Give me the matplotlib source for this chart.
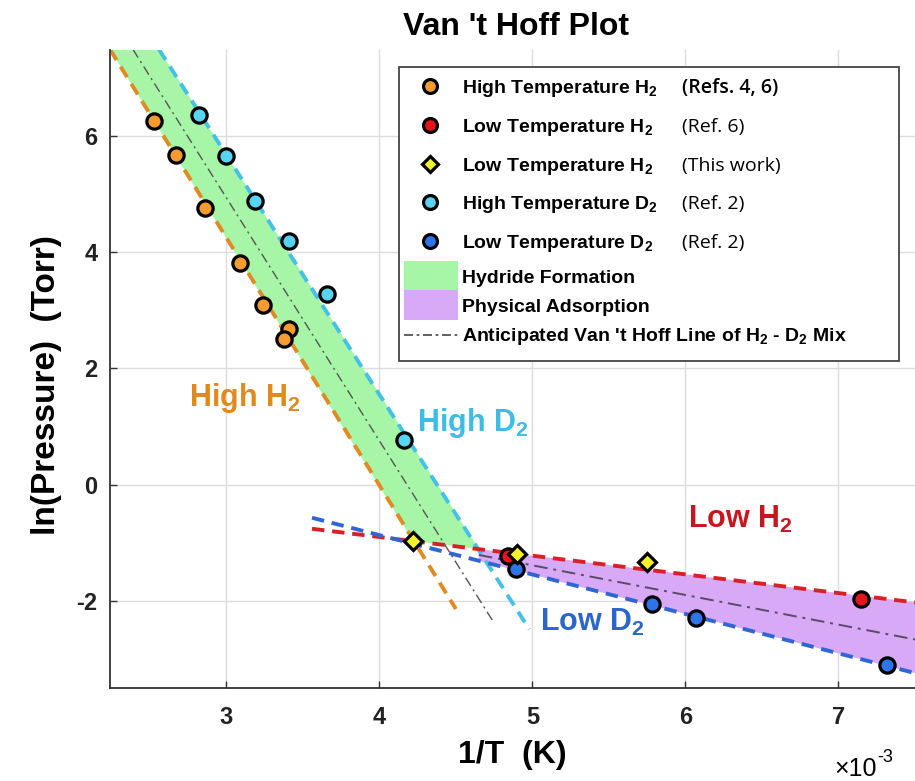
import matplotlib

matplotlib.use("Agg")
import matplotlib.pyplot as plt
from matplotlib.lines import Line2D
from matplotlib.patches import Rectangle

plt.rcParams["font.family"] = ["Liberation Sans", "DejaVu Sans"]
plt.rcParams["font.weight"] = "bold"
plt.rcParams["axes.labelweight"] = "bold"
plt.rcParams["axes.unicode_minus"] = False
plt.rcParams["mathtext.fontset"] = "custom"
for key in ("rm", "it", "bf", "sf"):
    plt.rcParams["mathtext." + key] = "Liberation Sans:bold"

W, H = 915, 781

# x in units of 1e-3 1/K, y = ln(P / Torr)
high_h2_x = [2.53, 2.67, 2.86, 3.09, 3.24, 3.41, 3.38]
high_h2_y = [6.25, 5.67, 4.76, 3.81, 3.10, 2.68, 2.50]
low_h2_x = [4.84, 7.15]
low_h2_y = [-1.22, -1.97]
this_work_x = [4.22, 4.90, 5.75]
this_work_y = [-0.97, -1.20, -1.33]
high_d2_x = [2.82, 3.00, 3.19, 3.41, 3.66, 4.16]
high_d2_y = [6.36, 5.66, 4.88, 4.20, 3.28, 0.77]
low_d2_x = [4.89, 5.78, 6.07, 7.32]
low_d2_y = [-1.46, -2.06, -2.29, -3.10]

# fitted Van 't Hoff lines (end points)
fit_high_h2_x, fit_high_h2_y = [2.24, 4.50], [7.49, -2.14]
fit_high_d2_x, fit_high_d2_y = [2.56, 4.98], [7.49, -2.49]
fit_high_mix_x, fit_high_mix_y = [2.39, 4.74], [7.49, -2.34]
fit_low_h2_x, fit_low_h2_y = [3.56, 7.51], [-0.76, -2.03]
fit_low_d2_x, fit_low_d2_y = [3.56, 7.51], [-0.57, -3.25]
fit_low_mix_x, fit_low_mix_y = [4.65, 7.51], [-1.21, -2.67]

# shaded regions
hydride_x = [2.24, 2.56, 4.65, 4.22]
hydride_y = [7.49, 7.49, -1.11, -0.97]
physisorb_x = [4.65, 7.51, 7.51, 4.65]
physisorb_y = [-1.11, -2.03, -3.25, -1.31]

x_ticks = [3, 4, 5, 6, 7]
y_ticks = [-2, 0, 2, 4, 6]

ORANGE, ORANGE_L = "#F59B30", "#E08B22"
RED, RED_L = "#E8141C", "#D82027"
YELLOW = "#F4F22A"
CYAN, CYAN_L = "#56D4F2", "#45C0E8"
BLUE, BLUE_L = "#2F74E8", "#2F66D4"
GREEN_FILL = "#A7F5A7"
PURPLE_FILL = "#D7A9F7"
MIX = "#555555"
AX = "#333333"


def fx(px):
    return px / W


def fy(py):
    return 1 - py / H


fig = plt.figure(figsize=(W / 100, H / 100), dpi=100)
ax = fig.add_axes([fx(110), fy(688), (W - 110) / W, (688 - 50) / H])

ax.fill(hydride_x, hydride_y, color=GREEN_FILL, lw=0, zorder=1)
ax.fill(physisorb_x, physisorb_y, color=PURPLE_FILL, lw=0, zorder=1)

dash = dict(lw=2.8, dashes=(3.2, 2.0), zorder=2)
ax.plot(fit_high_h2_x, fit_high_h2_y, color=ORANGE_L, **dash)
ax.plot(fit_high_d2_x, fit_high_d2_y, color=CYAN_L, **dash)
ax.plot(fit_low_h2_x, fit_low_h2_y, color=RED_L, **dash)
ax.plot(fit_low_d2_x, fit_low_d2_y, color=BLUE_L, **dash)
ax.plot(fit_high_mix_x, fit_high_mix_y, color=MIX, lw=1, ls=(0, (7, 3, 1.5, 3)), zorder=2)
ax.plot(fit_low_mix_x, fit_low_mix_y, color="#5a4a66", lw=1.4, ls=(0, (7, 3, 1.5, 3)), zorder=2)

mk = dict(ls="none", mec="black", mew=2.3, zorder=4)
ax.plot(high_h2_x, high_h2_y, "o", ms=11, mfc=ORANGE, **mk)
ax.plot(low_h2_x, low_h2_y, "o", ms=11, mfc=RED, **mk)
ax.plot(high_d2_x, high_d2_y, "o", ms=11, mfc=CYAN, **mk)
ax.plot(low_d2_x, low_d2_y, "o", ms=11, mfc=BLUE, **mk)
ax.plot(this_work_x, this_work_y, "D", ms=9, mfc=YELLOW, **mk)

ax.text(2.754, 1.35, "High H$_2$", color="#E0891E", fontsize=22, va="baseline")
ax.text(4.245, 0.93, "High D$_2$", color="#3DBDE5", fontsize=22, va="baseline")
ax.text(6.015, -0.75, "Low H$_2$", color="#C8161E", fontsize=22, va="baseline")
ax.text(5.05, -2.52, "Low D$_2$", color="#2A66CC", fontsize=22, va="baseline")

ax.set_xlim(2.24, 7.5)
ax.set_ylim(-3.5, 7.48)
ax.set_xticks(x_ticks)
ax.set_yticks(y_ticks)
ax.grid(True, color="#dcdcdc", lw=1)
ax.set_axisbelow(True)
for side in ("top", "right"):
    ax.spines[side].set_visible(False)
for side in ("left", "bottom"):
    ax.spines[side].set_color(AX)
    ax.spines[side].set_linewidth(1.3)
ax.tick_params(direction="in", length=5, width=1, color=AX, labelsize=17, labelcolor="#222222")
ax.tick_params(axis="x", pad=13)
ax.tick_params(axis="y", pad=9)

ax.set_xlabel("1/T  (K)", fontsize=23, va="baseline")
ax.xaxis.set_label_coords(0.5, (688 - 763) / 638)
ax.set_ylabel("ln(Pressure)  (Torr)", fontsize=24, va="center")
ax.yaxis.set_label_coords((47 - 110) / 805, (688 - 385) / 638)
fig.text(fx(834), fy(776), "\u00d710", fontsize=18, va="baseline", weight="normal")
fig.text(fx(877), fy(762), "-3", fontsize=13, va="baseline", weight="normal")
fig.text(fx(516), fy(35), "Van 't Hoff Plot", fontsize=23, ha="center", va="baseline")

# legend, drawn by hand to get the mixed fonts
fig.add_artist(Rectangle((fx(399), fy(361)), fx(899) - fx(399), fy(67) - fy(361),
                         transform=fig.transFigure, fc="white", ec="#444444", lw=1.3))
rows = [
    ("o", ORANGE, "High Temperature H$_2$", "(Refs. 4, 6)", 86),
    ("o", RED, "Low Temperature H$_2$", "(Ref. 6)", 125),
    ("D", YELLOW, "Low Temperature H$_2$", "(This work)", 164),
    ("o", CYAN, "High Temperature D$_2$", "(Ref. 2)", 202),
    ("o", BLUE, "Low Temperature D$_2$", "(Ref. 2)", 241),
]
for marker, colour, label, ref, py in rows:
    fig.add_artist(Line2D([fx(430)], [fy(py)], transform=fig.transFigure, marker=marker,
                          ms=10 if marker == "o" else 8, mfc=colour, mec="black", mew=2.3))
    fig.text(fx(462), fy(py + 7), label, fontsize=14, va="baseline")
    fig.text(fx(682), fy(py + 7), ref, fontsize=14, va="baseline", family="Open Sans",
             weight="semibold" if ref.startswith("(Refs") else "normal")

fig.add_artist(Rectangle((fx(404), fy(290)), fx(458) - fx(404), fy(261) - fy(290),
                         transform=fig.transFigure, fc=GREEN_FILL, lw=0))
fig.add_artist(Rectangle((fx(404), fy(320)), fx(458) - fx(404), fy(290) - fy(320),
                         transform=fig.transFigure, fc=PURPLE_FILL, lw=0))
fig.add_artist(Line2D([fx(404), fx(458)], [fy(335), fy(335)], transform=fig.transFigure,
                      color=MIX, lw=1.3, ls=(0, (5, 2, 1.5, 2))))
fig.text(fx(462), fy(283), "Hydride Formation", fontsize=14, va="baseline")
fig.text(fx(462), fy(312), "Physical Adsorption", fontsize=14, va="baseline")
fig.text(fx(462), fy(341), "Anticipated Van 't Hoff Line of H$_2$ - D$_2$ Mix", fontsize=14, va="baseline")

fig.savefig("out.png", dpi=100)
